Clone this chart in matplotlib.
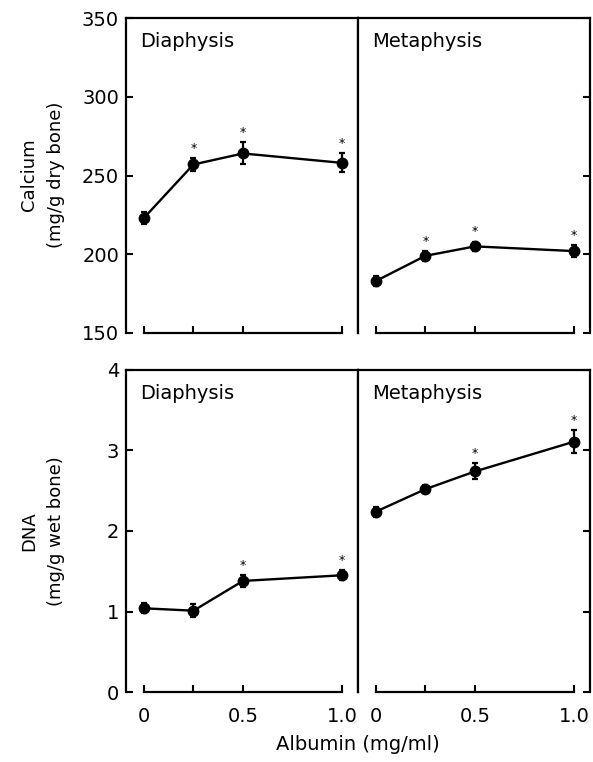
import numpy as np
import matplotlib
matplotlib.use("Agg")
import matplotlib.pyplot as plt

# albumin concentrations (mg/ml)
albumin = [0, 0.25, 0.5, 1.0]

# Calcium (mg/g dry bone)
ca_dia = [223, 257, 264, 258]
ca_dia_err = [4, 4, 7, 6]
ca_dia_sig = [False, True, True, True]
ca_met = [183, 199, 205, 202]
ca_met_err = [3, 3, 3, 4]
ca_met_sig = [False, True, True, True]

# DNA (mg/g wet bone)
dna_dia = [1.04, 1.01, 1.38, 1.45]
dna_dia_err = [0.06, 0.08, 0.07, 0.06]
dna_dia_sig = [False, False, True, True]
dna_met = [2.24, 2.52, 2.74, 3.11]
dna_met_err = [0.06, 0.05, 0.10, 0.14]
dna_met_sig = [False, False, True, True]

plt.rcParams['font.family'] = ['DejaVu Sans']

fig = plt.figure(figsize=(5.93, 7.62), dpi=100)

W = 232 / 593
xl = [126 / 593, 358 / 593]
rows = [(1 - 333 / 762, 315 / 762), (1 - 692 / 762, 322 / 762)]

panels = [
    (0, 0, ca_dia, ca_dia_err, ca_dia_sig, "Diaphysis"),
    (0, 1, ca_met, ca_met_err, ca_met_sig, "Metaphysis"),
    (1, 0, dna_dia, dna_dia_err, dna_dia_sig, "Diaphysis"),
    (1, 1, dna_met, dna_met_err, dna_met_sig, "Metaphysis"),
]
ylims = [(150, 350), (0, 4)]
yticks = [[150, 200, 250, 300, 350], [0, 1, 2, 3, 4]]

for r, c, vals, errs, sig, name in panels:
    b, h = rows[r]
    ax = fig.add_axes([xl[c], b, W, h])
    ax.errorbar(albumin, vals, yerr=errs, color='black', marker='o', markersize=7.5,
                linewidth=1.7, elinewidth=1.6, capsize=2.5, capthick=1.6)
    span = ylims[r][1] - ylims[r][0]
    for xv, v, e, s in zip(albumin, vals, errs, sig):
        if s:
            ax.text(xv, v + e + span * 0.01, "*", ha='center', va='bottom', fontsize=9)
    ax.set_xlim(-0.09, 1.08)
    ax.set_ylim(*ylims[r])
    ax.set_xticks(albumin)
    if r == 1:
        ax.set_xticklabels(["0", "", "0.5", "1.0"])
    else:
        ax.set_xticklabels([])
    ax.set_yticks(yticks[r])
    for sp in ax.spines.values():
        sp.set_linewidth(1.6)
    ax.spines['bottom'].set_bounds(0, 1.0)
    if c == 0:
        ax.tick_params(axis='y', direction='in', left=True, right=False, labelsize=14,
                       length=5, width=1.5, pad=5)
    else:
        ax.tick_params(axis='y', direction='in', left=False, right=True, labelleft=False,
                       labelsize=14, length=5, width=1.5)
    ax.tick_params(axis='x', direction='in', labelsize=14, length=5, width=1.5, pad=11)
    ax.text(0.06, 0.955, name, transform=ax.transAxes, ha='left', va='top', fontsize=14)

fig.text(0.072, 1 - 175 / 762, "Calcium\n(mg/g dry bone)", rotation=90, ha='center', va='center',
         fontsize=13, multialignment='center', linespacing=1.6)
fig.text(0.072, 1 - 531 / 762, "DNA\n(mg/g wet bone)", rotation=90, ha='center', va='center',
         fontsize=13, multialignment='center', linespacing=1.6)
fig.text(358 / 593, 1 - 744 / 762, "Albumin (mg/ml)", ha='center', va='center', fontsize=14)

fig.savefig("out.png", dpi=100)
